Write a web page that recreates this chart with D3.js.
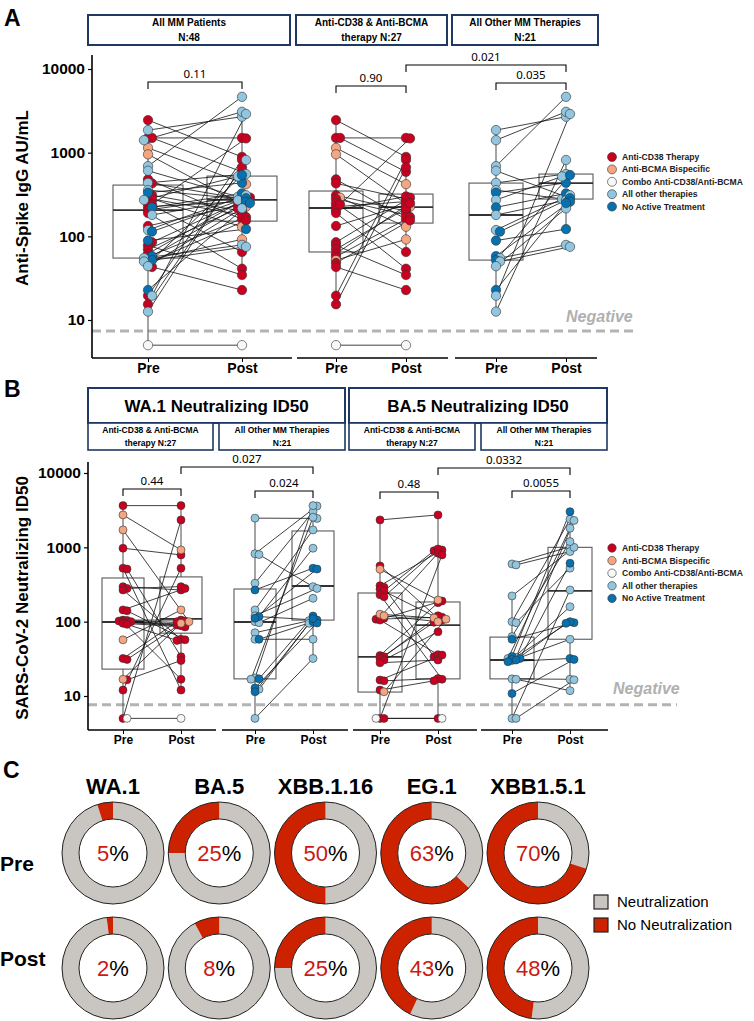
<!DOCTYPE html>
<html><head><meta charset="utf-8">
<script src="https://cdn.jsdelivr.net/npm/d3@7/dist/d3.min.js"></script>
<style>body{margin:0;background:#fff} svg{display:block}</style>
</head><body>
<svg id="chart" width="754" height="1021"></svg>
<script>
// ================= DATA =================
const timepoints = ["Pre", "Post"];
const therapyCodes = ["R", "S", "W", "L", "D"];
const therapyNames = ["Anti-CD38 Therapy", "Anti-BCMA Bispecific", "Combo Anti-CD38/Anti-BCMA", "All other therapies", "No Active Treatment"];
const therapyColors = ["#ca0020", "#f4a582", "#f7f7f7", "#92c5de", "#0571b0"];

// Panel A: anti-spike IgG (AU/mL), [pre, post, therapy]
const spikeCD38 = [
  [2450,890,"R"],[1500,1500,"R"],[1500,590,"R"],[1140,420,"S"],[955,226,"S"],[480,160,"R"],[430,280,"R"],
  [310,200,"R"],[290,130,"S"],[280,180,"R"],[250,65,"R"],[226,260,"R"],[206,300,"R"],[190,41,"R"],
  [133,240,"R"],[85,290,"R"],[78,34.5,"R"],[70,215,"R"],[62,250,"R"],[57,170,"R"],[52,92,"S"],
  [48,155,"R"],[43,22.8,"R"],[19.5,820,"R"],[15.4,670,"R"],[5,5,"W"],[240,1480,"R"]
];
const spikeOther = [
  [1860,2690,"L"],[1410,3080,"L"],[690,4650,"L"],[608,297,"L"],[436,555,"L"],[357,280,"L"],[332,436,"D"],
  [272,520,"L"],[222,326,"D"],[180,270,"L"],[119,310,"L"],[114,285,"D"],[89,122,"D"],[58,259,"D"],
  [55,79,"L"],[52,540,"D"],[50,75,"L"],[44,216,"L"],[22.8,250,"D"],[19.5,2900,"L"],[12.6,817,"L"]
];
// Panel B: neutralizing ID50, [pre, post, therapy]
const waCD38 = [
  [3640,3640,"R"],[973,790,"R"],[524,12,"R"],[510,33.8,"R"],[296,267,"R"],[280,296,"R"],[267,58,"R"],
  [144,280,"R"],[140,57,"R"],[105,105,"R"],[104,97,"R"],[102,92,"R"],[100,90,"R"],[100,16.8,"R"],
  [98,88,"R"],[95,85,"R"],[92,56,"R"],[32,100,"R"],[31,102,"R"],[16.5,30,"R"],[12,524,"R"],[5,2340,"R"],
  [2730,922,"S"],[1715,100,"S"],[57,144,"S"],[16.8,95,"S"],[5,5,"W"]
];
const waOther = [
  [2470,2450,"L"],[820,3600,"L"],[800,296,"L"],[329,3020,"L"],[144,1715,"L"],[120,280,"L"],[100,973,"L"],
  [97,206,"L"],[71,103,"L"],[58,58,"L"],[17.5,3640,"L"],[16.8,2540,"L"],[12.3,95,"L"],[5,32,"L"],
  [267,524,"D"],[117,105,"D"],[111,510,"D"],[58,100,"D"],[17,119,"D"],[12.8,96,"D"],[11.4,110,"D"]
];
const baCD38 = [
  [2340,2730,"R"],[563,111,"R"],[305,922,"R"],[290,33.8,"R"],[273,105,"R"],[260,900,"R"],[230,16.8,"R"],
  [217,950,"R"],[115,835,"R"],[111,190,"R"],[108,115,"R"],[105,36,"R"],[35,180,"R"],[33.8,120,"R"],
  [32,98,"R"],[30.5,73,"R"],[28,30.5,"R"],[16.4,35.5,"R"],[16,17.2,"R"],[12,16,"R"],[5,790,"R"],[5,5,"R"],
  [507,195,"S"],[126,112,"S"],[120,100,"S"],[11.4,108,"S"],[5,5,"W"]
];
const baOther = [
  [598,1020,"L"],[580,877,"L"],[222,1000,"L"],[100,2390,"L"],[97,524,"L"],[63,1195,"L"],[33,2300,"L"],
  [32,1810,"L"],[31,159,"L"],[30,58,"L"],[17,16.8,"L"],[16.8,11.8,"L"],[5,267,"L"],[5,16.5,"L"],
  [58,97,"D"],[34,3020,"D"],[32,611,"D"],[31,100,"D"],[30.5,95,"D"],[29,32,"D"],[10.8,31,"D"]
];
// Box stats [q1, median, q3] for Pre and Post
const boxSpikeAll   = [[55,206,410],[152,272,525]];
const boxSpikeCD38  = [[65,218,348],[144,224,320]];
const boxSpikeOther = [[52,180,433],[279,433,555]];
const boxWaCD38  = [[23,99,387],[70,109,400]];
const boxWaOther = [[17,99,275],[105,302,1660]];
const boxBaCD38  = [[11.3,33.5,243],[17,90,184]];
const boxBaOther = [[17,30.5,62],[58,259,1000]];

const yTicks = [10, 100, 1000, 10000];
const negativeA = 7.4, negativeB = 7.6;
const headerA = [["All MM Patients","N:48"],["Anti-CD38 & Anti-BCMA","therapy N:27"],["All Other MM Therapies","N:21"]];
const headerB = ["WA.1 Neutralizing ID50", "BA.5 Neutralizing ID50"];
const subHeaderB = [["Anti-CD38 & Anti-BCMA","therapy N:27"],["All Other MM Therapies","N:21"]];
const pValuesA = ["0.11","0.90","0.035","0.021"];
const pValuesB = ["0.44","0.024","0.027","0.48","0.0055","0.0332"];

// Panel C
const variants = ["WA.1","BA.5","XBB.1.16","EG.1","XBB1.5.1"];
const noNeutPre  = [5, 25, 50, 63, 70];
const noNeutPost = [2, 8, 25, 43, 48];
const donutLegend = ["Neutralization", "No Neutralization"];

// ================= DRAW =================
const FONT = "'Liberation Sans', Arial, sans-serif";
const svg = d3.select("#chart");
const colorOf = d3.scaleOrdinal().domain(therapyCodes).range(therapyColors);

const spikeAll = spikeCD38.concat(spikeOther);
const yA = d3.scaleLog().domain([10, 10000]).range([320, 69]);
const yB = d3.scaleLog().domain([10, 10000]).range([696, 473]);

function panelLabel(t, x, y) {
  svg.append("text").attr("x", x).attr("y", y).text(t)
    .attr("font-family", FONT).attr("font-weight", "bold").attr("font-size", 23);
}

function yAxis(scale, x, top, bottom) {
  const g = svg.append("g").attr("transform", `translate(${x},0)`);
  g.call(d3.axisLeft(scale).tickValues(yTicks).tickFormat(d3.format("d")).tickSize(4).tickPadding(3));
  g.select(".domain").remove();
  g.append("line").attr("y1", top).attr("y2", bottom).attr("stroke", "#000").attr("stroke-width", 1.6);
  g.selectAll(".tick line").attr("stroke", "#000").attr("stroke-width", 1.2);
  g.selectAll(".tick text").attr("font-family", FONT).attr("font-weight", "bold")
    .attr("font-size", 15.5).attr("fill", "#000");
}

function yTitle(t, x, y) {
  svg.append("text").attr("transform", `translate(${x},${y}) rotate(-90)`)
    .attr("text-anchor", "middle").text(t)
    .attr("font-family", FONT).attr("font-weight", "bold").attr("font-size", 17);
}

function placeColumn(values, xc, yScale) {
  const offs = [0, 4, -4, 8];
  const order = values.map((v, i) => i).sort((a, b) => values[b] - values[a]);
  const placed = [], xs = new Array(values.length);
  order.forEach(i => {
    const yy = yScale(values[i]);
    for (const off of offs) {
      if (!placed.some(p => p.off === off && Math.abs(p.y - yy) < 2.5)) {
        placed.push({ off, y: yy }); xs[i] = xc + off; return;
      }
    }
    xs[i] = xc;
  });
  return xs;
}

function whiskers(vals, q1, q3) {
  const l1 = Math.log10(q1), l3 = Math.log10(q3), iqr = l3 - l1;
  const lo = Math.pow(10, l1 - 1.5 * iqr), hi = Math.pow(10, l3 + 1.5 * iqr);
  const inside = vals.filter(v => v >= lo && v <= hi);
  return [d3.min(inside), d3.max(inside)];
}

function drawGroup(p, yScale, r, axisY, tickFont) {
  const x = d3.scalePoint().domain(timepoints).range(p.pts);
  const gx = svg.append("g").attr("transform", `translate(0,${axisY})`);
  gx.call(d3.axisBottom(x).tickSize(4).tickPadding(1));
  gx.select(".domain").remove();
  gx.append("line").attr("x1", p.seg[0]).attr("x2", p.seg[1]).attr("stroke", "#000").attr("stroke-width", 1.6);
  gx.selectAll(".tick line").attr("stroke", "#000");
  gx.selectAll(".tick text").attr("font-family", FONT).attr("font-weight", "bold")
    .attr("font-size", tickFont).attr("fill", "#000");

  const g = svg.append("g");
  timepoints.forEach((tp, i) => {
    const [q1, med, q3] = p.box[i];
    const vals = p.data.map(d => d[i]);
    const [wlo, whi] = whiskers(vals, q1, q3);
    const xc = x(tp);
    const st = "#5a5a5a";
    g.append("line").attr("x1", xc).attr("x2", xc).attr("y1", yScale(q3)).attr("y2", yScale(whi)).attr("stroke", st).attr("stroke-width", 1.1);
    g.append("line").attr("x1", xc).attr("x2", xc).attr("y1", yScale(q1)).attr("y2", yScale(wlo)).attr("stroke", st).attr("stroke-width", 1.1);
    g.append("rect").attr("x", xc - p.hw).attr("width", 2 * p.hw)
      .attr("y", yScale(q3)).attr("height", yScale(q1) - yScale(q3))
      .attr("fill", "none").attr("stroke", st).attr("stroke-width", 1.1);
    g.append("line").attr("x1", xc - p.hw).attr("x2", xc + p.hw).attr("y1", yScale(med)).attr("y2", yScale(med))
      .attr("stroke", "#333").attr("stroke-width", 1.8);
  });
  const xsPre = placeColumn(p.data.map(d => d[0]), x("Pre"), yScale);
  const xsPost = placeColumn(p.data.map(d => d[1]), x("Post"), yScale);
  g.selectAll(".pair").data(p.data).join("line")
    .attr("x1", (d, i) => xsPre[i]).attr("x2", (d, i) => xsPost[i])
    .attr("y1", d => yScale(d[0])).attr("y2", d => yScale(d[1]))
    .attr("stroke", "#111").attr("stroke-width", 0.8);
  const pts = [];
  p.data.forEach((d, i) => {
    pts.push({ x: xsPre[i], y: yScale(d[0]), t: d[2] });
    pts.push({ x: xsPost[i], y: yScale(d[1]), t: d[2] });
  });
  g.selectAll(".pt").data(pts).join("circle")
    .attr("cx", d => d.x).attr("cy", d => d.y).attr("r", r)
    .attr("fill", d => colorOf(d.t)).attr("stroke", "#333").attr("stroke-width", 0.6);
  return x;
}

function bracket(x1, x2, y, label) {
  svg.append("path").attr("d", `M${x1},${y + 7}V${y}H${x2}V${y + 7}`)
    .attr("fill", "none").attr("stroke", "#000").attr("stroke-width", 1.1);
  svg.append("text").attr("x", (x1 + x2) / 2).attr("y", y - 4).attr("text-anchor", "middle")
    .attr("font-family", "'Noto Sans', 'Open Sans', sans-serif").attr("font-size", 11.5).text(label);
}

function legend(x, y0, step, r) {
  therapyNames.forEach((n, i) => {
    svg.append("circle").attr("cx", x).attr("cy", y0 + i * step).attr("r", r)
      .attr("fill", therapyColors[i]).attr("stroke", "#333").attr("stroke-width", 0.6);
    svg.append("text").attr("x", x + 10).attr("y", y0 + i * step).attr("dy", "0.35em")
      .attr("font-family", FONT).attr("font-weight", "bold").attr("font-size", 8.6).attr("fill", "#222").text(n);
  });
}

function negLine(yScale, val, x1, x2, tx, ty) {
  svg.append("line").attr("x1", x1).attr("x2", x2).attr("y1", yScale(val)).attr("y2", yScale(val))
    .attr("stroke", "#b3b3b3").attr("stroke-width", 3).attr("stroke-dasharray", "9,5");
  svg.append("text").attr("x", tx).attr("y", ty).text("Negative")
    .attr("font-family", FONT).attr("font-weight", "bold").attr("font-style", "italic")
    .attr("font-size", 16).attr("fill", "#b0b0b0");
}

function headerBox(x0, x1, y0, y1, lines, size, sw) {
  svg.append("rect").attr("x", x0).attr("y", y0).attr("width", x1 - x0).attr("height", y1 - y0)
    .attr("fill", "#fff").attr("stroke", "#1f3864").attr("stroke-width", sw);
  const n = lines.length, h = y1 - y0;
  lines.forEach((t, i) => {
    svg.append("text").attr("x", (x0 + x1) / 2)
      .attr("y", y0 + h * (i + 0.5) / n).attr("dy", "0.36em").attr("text-anchor", "middle")
      .attr("font-family", FONT).attr("font-weight", "bold").attr("font-size", size).text(t);
  });
}

// ---------- Panel A ----------
panelLabel("A", 4, 26);
const hdrAx = [[88, 290], [296, 447], [452, 598]];
headerA.forEach((l, i) => headerBox(hdrAx[i][0], hdrAx[i][1], 15, 45, l, 10, 2));
negLine(yA, negativeA, 92, 637, 566, 322);
const groupsA = [
  { data: spikeAll, box: boxSpikeAll, seg: [92, 292], pts: [148, 242], hw: 35 },
  { data: spikeCD38, box: boxSpikeCD38, seg: [297, 448], pts: [336, 406], hw: 27 },
  { data: spikeOther, box: boxSpikeOther, seg: [455, 597], pts: [496, 566], hw: 27 }
];
const xsA = groupsA.map(g => drawGroup(g, yA, 4.7, 358, 14));
yAxis(yA, 92, 55, 358);
yTitle("Anti-Spike IgG AU/mL", 28, 198);
bracket(xsA[0]("Pre"), xsA[0]("Post"), 82, pValuesA[0]);
bracket(xsA[1]("Pre"), xsA[1]("Post"), 86, pValuesA[1]);
bracket(xsA[2]("Pre"), xsA[2]("Post"), 83, pValuesA[2]);
bracket(xsA[1]("Post"), xsA[2]("Post"), 65, pValuesA[3]);
legend(612, 157, 12.4, 4.5);

// ---------- Panel B ----------
panelLabel("B", 4, 397);
headerBox(88, 345, 388, 423, [headerB[0]], 17, 2);
headerBox(349, 607, 388, 423, [headerB[1]], 17, 2);
headerBox(88, 213, 423, 450, subHeaderB[0], 8.5, 1.6);
headerBox(219, 345, 423, 450, subHeaderB[1], 8.5, 1.6);
headerBox(349, 475, 423, 450, subHeaderB[0], 8.5, 1.6);
headerBox(481, 607, 423, 450, subHeaderB[1], 8.5, 1.6);
negLine(yB, negativeB, 88, 677, 613, 694);
const groupsB = [
  { data: waCD38, box: boxWaCD38, seg: [88, 216], pts: [123, 181], hw: 21 },
  { data: waOther, box: boxWaOther, seg: [222, 348], pts: [255, 313], hw: 21 },
  { data: baCD38, box: boxBaCD38, seg: [353, 477], pts: [380, 438], hw: 22 },
  { data: baOther, box: boxBaOther, seg: [481, 608], pts: [512, 570], hw: 22 }
];
const xsB = groupsB.map(g => drawGroup(g, yB, 4, 730, 12));
yAxis(yB, 88, 462, 730);
yTitle("SARS-CoV-2 Neutralizing ID50", 28, 598);
bracket(xsB[0]("Pre"), xsB[0]("Post"), 489, pValuesB[0]);
bracket(xsB[1]("Pre"), xsB[1]("Post"), 491, pValuesB[1]);
bracket(xsB[0]("Post"), xsB[1]("Post"), 467, pValuesB[2]);
bracket(xsB[2]("Pre"), xsB[2]("Post"), 492, pValuesB[3]);
bracket(xsB[3]("Pre"), xsB[3]("Post"), 491, pValuesB[4]);
bracket(xsB[2]("Post"), xsB[3]("Post"), 468, pValuesB[5]);
legend(612, 548, 12.6, 4.2);

// ---------- Panel C ----------
panelLabel("C", 3, 778);
const xC = d3.scalePoint().domain(variants).range([113, 538]);
const rowY = { Pre: 853, Post: 968 };
const rowLabelY = { Pre: 863, Post: 958 };
const arcG = d3.arc().innerRadius(34).outerRadius(51);
const GREY = "#c9c6c2", RED = "#cc2200";
variants.forEach(v => {
  svg.append("text").attr("x", xC(v)).attr("y", 794).attr("text-anchor", "middle")
    .attr("font-family", FONT).attr("font-weight", "bold").attr("font-size", 22).text(v);
});
[["Pre", noNeutPre], ["Post", noNeutPost]].forEach(([row, vals]) => {
  svg.append("text").attr("x", 0).attr("y", rowLabelY[row]).attr("dy", "0.36em")
    .attr("font-family", FONT).attr("font-weight", "bold").attr("font-size", 21).text(row);
  vals.forEach((pct, i) => {
    const cx = xC(variants[i]), cy = rowY[row];
    const g = svg.append("g").attr("transform", `translate(${cx},${cy})`);
    const a = pct / 100 * 2 * Math.PI;
    g.append("path").attr("d", arcG({ startAngle: 0, endAngle: 2 * Math.PI - a })).attr("fill", GREY);
    g.append("path").attr("d", arcG({ startAngle: -a, endAngle: 0 })).attr("fill", RED);
    g.append("circle").attr("r", 51).attr("fill", "none").attr("stroke", "#222").attr("stroke-width", 1);
    g.append("circle").attr("r", 34).attr("fill", "#fff").attr("stroke", "#222").attr("stroke-width", 1);
    const t = g.append("text").attr("text-anchor", "middle").attr("dy", "0.36em")
      .attr("font-family", FONT).attr("font-size", 22);
    t.append("tspan").attr("fill", "#cc1a14").text(pct);
    t.append("tspan").attr("fill", "#000").text("%");
  });
});
donutLegend.forEach((n, i) => {
  const cy = 902 + i * 23;
  svg.append("rect").attr("x", 594).attr("y", cy - 7).attr("width", 14).attr("height", 14)
    .attr("fill", i === 0 ? GREY : RED).attr("stroke", "#222").attr("stroke-width", 1.2);
  svg.append("text").attr("x", 617).attr("y", cy).attr("dy", "0.36em")
    .attr("font-family", FONT).attr("font-size", 15).text(n);
});
</script>
</body></html>
